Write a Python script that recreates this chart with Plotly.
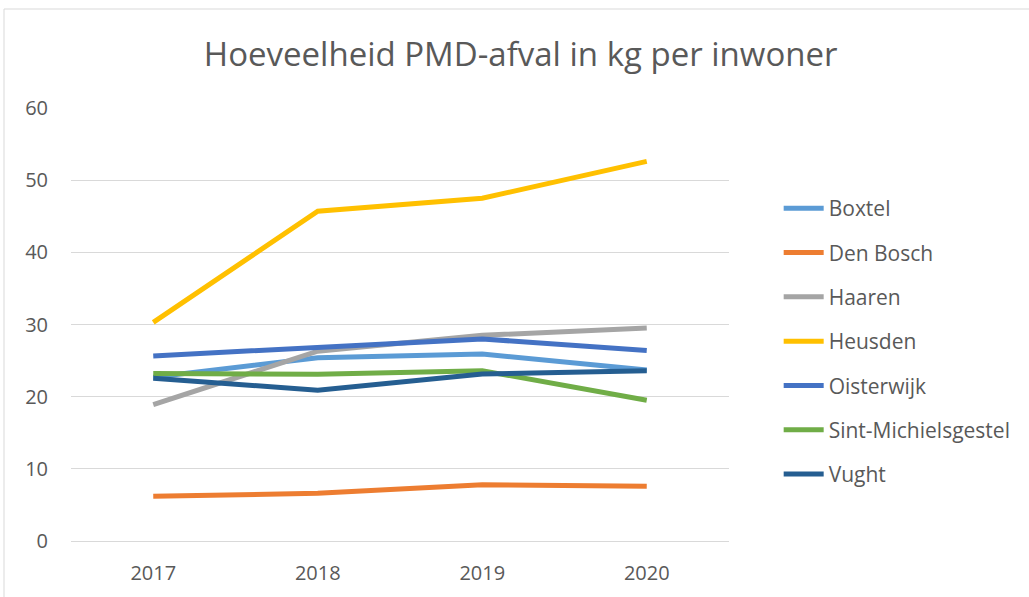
import plotly.graph_objects as go

years = ["2017", "2018", "2019", "2020"]
names = ["Boxtel", "Den Bosch", "Haaren", "Heusden", "Oisterwijk", "Sint-Michielsgestel", "Vught"]
boxtel = [22.7, 25.4, 25.9, 23.7]
den_bosch = [6.2, 6.6, 7.8, 7.6]
haaren = [18.9, 26.3, 28.5, 29.5]
heusden = [30.3, 45.7, 47.5, 52.6]
oisterwijk = [25.65, 26.9, 28.0, 26.4]
sint_michielsgestel = [23.2, 23.1, 23.6, 19.5]
vught = [22.55, 20.9, 23.15, 23.6]
series = [boxtel, den_bosch, haaren, heusden, oisterwijk, sint_michielsgestel, vught]
colors = ["#5B9BD5", "#ED7D31", "#A5A5A5", "#FFC000", "#4472C4", "#70AD47", "#255E91"]

fig = go.Figure()
for n, s, c in zip(names, series, colors):
    fig.add_trace(go.Scatter(x=years, y=s, name=n, mode="lines",
                             line=dict(color=c, width=5), legendgroup=n))

font = "Open Sans"
fig.update_layout(
    width=1029, height=597,
    paper_bgcolor="white", plot_bgcolor="white",
    margin=dict(l=71, r=300, t=108, b=56),
    title=dict(text="Hoeveelheid PMD-afval in kg per inwoner", x=0.506, xanchor="center",
               y=0.908, yanchor="middle",
               font=dict(family=font, size=33, color="#595959")),
    font=dict(family=font, color="#595959", size=20),
    xaxis=dict(type="category", range=[-0.5, 3.5], showgrid=False, showline=False,
               ticks="", tickfont=dict(size=20, color="#595959"), zeroline=False,
               ticklabelstandoff=18),
    yaxis=dict(range=[0, 60], dtick=10, showgrid=True, gridcolor="#D9D9D9", gridwidth=1,
               zeroline=True, zerolinecolor="#D9D9D9", zerolinewidth=1,
               tickfont=dict(size=20, color="#595959"), ticks="", ticklabelstandoff=22),
    legend=dict(x=1.0755, xanchor="left", y=0.815, yanchor="top", tracegroupgap=14,
                font=dict(size=21, color="#595959"), itemwidth=40),
    shapes=[dict(type="rect", xref="paper", yref="paper",
                 x0=(4 - 71) / 658, x1=(1040 - 71) / 658,
                 y0=(541 - 610) / 433, y1=(541 - 9) / 433,
                 line=dict(color="#D9D9D9", width=1), layer="below")],
    showlegend=True,
)
fig.write_html("out.html", config={"displayModeBar": False},
               post_script="document.body.style.margin='0px';")
